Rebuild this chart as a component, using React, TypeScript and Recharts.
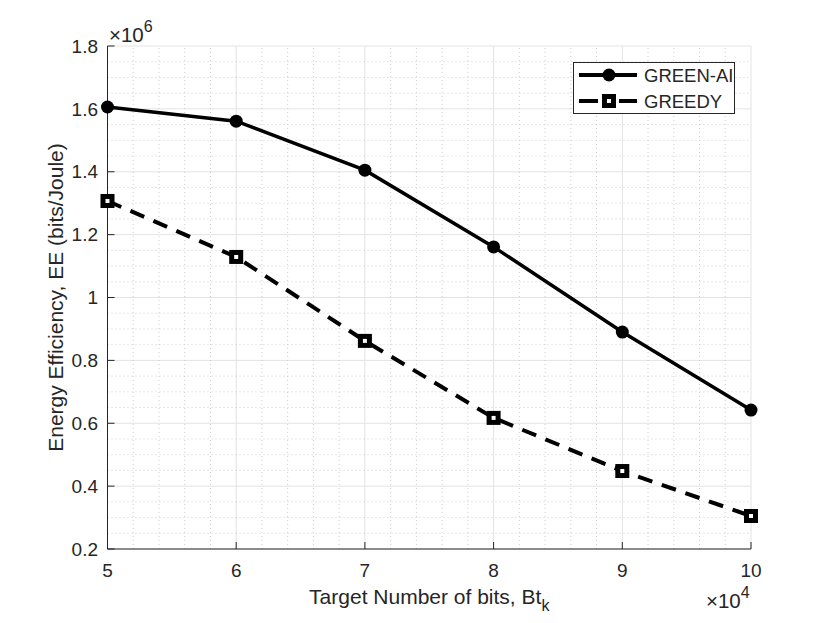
import {
  LineChart,
  Line,
  XAxis,
  YAxis,
  CartesianGrid,
  ReferenceLine,
  Legend,
} from "recharts";

// target bits (x 10^4) and energy efficiency (x 10^6 bits/Joule)
const targetBits = [5, 6, 7, 8, 9, 10];
const greenAi = [1.606, 1.561, 1.405, 1.161, 0.89, 0.642];
const greedy = [1.307, 1.129, 0.862, 0.617, 0.448, 0.305];

const xTicks = [5, 6, 7, 8, 9, 10];
const yTicks = [0.2, 0.4, 0.6, 0.8, 1, 1.2, 1.4, 1.6, 1.8];
const seriesOrder = ["greenAi", "greedy"];

const chartData = targetBits.map((x, i) => ({
  x,
  greenAi: greenAi[i],
  greedy: greedy[i],
}));

// minor grid (matlab style): 0.2 steps on x, 0.05 on y
const xMinor: number[] = [];
for (let i = 1; i < 25; i++) if (i % 5 !== 0) xMinor.push(5 + i * 0.2);
const yMinor: number[] = [];
for (let i = 1; i < 32; i++) if (i % 4 !== 0) yMinor.push(0.2 + i * 0.05);

const FONT = "'Liberation Sans', Arial, Helvetica, sans-serif";
const INK = "#262626";

const tickStyle = { fontSize: 19, fill: INK, fontFamily: FONT };

const SquareDot = (props: any) => {
  const { cx, cy, index } = props;
  if (cx == null || cy == null) return null;
  return (
    <rect
      key={`sq-${index}`}
      x={cx - 4.5}
      y={cy - 4.5}
      width={9}
      height={9}
      fill="#fff"
      stroke="#000"
      strokeWidth={5}
    />
  );
};

const LegendBox = ({ payload }: any) => {
  const items = [...(payload ?? [])].sort(
    (a: any, b: any) => seriesOrder.indexOf(a.dataKey) - seriesOrder.indexOf(b.dataKey)
  );
  return (
    <svg width={162} height={52} style={{ display: "block" }}>
      <rect x={0.5} y={0.5} width={161} height={51} fill="#fff" stroke={INK} />
      {items.map((item: any, i: number) => {
        const y = 13 + i * 26;
        const dashed = item.dataKey === "greedy";
        return (
          <g key={item.dataKey}>
            <line
              x1={6}
              x2={64}
              y1={y}
              y2={y}
              stroke="#000"
              strokeWidth={4}
              strokeDasharray={dashed ? "19 21" : undefined}
            />
            {dashed ? (
              <rect x={31.5} y={y - 4.5} width={9} height={9} fill="#fff" stroke="#000" strokeWidth={5} />
            ) : (
              <circle cx={36} cy={y} r={6.5} fill="#000" />
            )}
            <text x={71} y={y + 6.5} fontSize={18.5} fill={INK} fontFamily={FONT}>
              {item.value}
            </text>
          </g>
        );
      })}
    </svg>
  );
};

export default function App() {
  return (
    <div style={{ position: "absolute", left: 0, top: 0, width: 830, height: 623, background: "#fff" }}>
      <LineChart
        width={830}
        height={623}
        data={chartData}
        margin={{ top: 46, right: 79, bottom: 44, left: 47.5 }}
      >
        <CartesianGrid stroke="#e3e3e3" strokeWidth={1} />
        {xMinor.map((v) => (
          <ReferenceLine key={`xm-${v}`} x={v} stroke="#cdcdcd" strokeDasharray="1 3" />
        ))}
        {yMinor.map((v) => (
          <ReferenceLine key={`ym-${v}`} y={v} stroke="#cdcdcd" strokeDasharray="1 3" />
        ))}
        <XAxis
          dataKey="x"
          type="number"
          domain={[5, 10]}
          ticks={xTicks}
          height={30}
          tickSize={-7}
          tickMargin={22}
          stroke={INK}
          tick={tickStyle}
          label={{
            content: ({ viewBox }: any) => (
              <text
                x={viewBox.x + viewBox.width / 2}
                y={viewBox.y + 55}
                textAnchor="middle"
                fontSize={21}
                fill={INK}
                fontFamily={FONT}
              >
                Target Number of bits, Bt
                <tspan fontSize={16} dy={7}>k</tspan>
              </text>
            ),
          }}
        />
        <XAxis
          xAxisId="top"
          dataKey="x"
          type="number"
          orientation="top"
          domain={[5, 10]}
          ticks={xTicks}
          height={0}
          tickSize={-7}
          stroke={INK}
          tickFormatter={() => ""}
        />
        <YAxis
          type="number"
          domain={[0.2, 1.8]}
          ticks={yTicks}
          width={60}
          tickSize={-7}
          tickMargin={16.5}
          stroke={INK}
          tick={tickStyle}
          tickFormatter={(v: number) => (v === 1 ? "1" : v.toFixed(1))}
          label={{
            content: ({ viewBox }: any) => {
              const x = viewBox.x + 15;
              const y = viewBox.y + viewBox.height / 2;
              return (
                <text
                  x={x}
                  y={y}
                  transform={`rotate(-90, ${x}, ${y})`}
                  textAnchor="middle"
                  fontSize={21}
                  fill={INK}
                  fontFamily={FONT}
                >
                  Energy Efficiency, EE (bits/Joule)
                </text>
              );
            },
          }}
        />
        <YAxis
          yAxisId="right"
          orientation="right"
          type="number"
          domain={[0.2, 1.8]}
          ticks={yTicks}
          width={0}
          tickSize={-7}
          stroke={INK}
          tickFormatter={() => ""}
        />
        <Line
          dataKey="greenAi"
          name="GREEN-AI"
          stroke="#000"
          strokeWidth={3.5}
          dot={{ r: 6.5, fill: "#000", stroke: "#000", strokeWidth: 0 }}
          isAnimationActive={false}
        />
        <Line
          dataKey="greedy"
          name="GREEDY"
          stroke="#000"
          strokeWidth={4}
          strokeDasharray="15 10"
          dot={SquareDot}
          isAnimationActive={false}
        />
        <Legend
          layout="vertical"
          align="center"
          verticalAlign="middle"
          content={LegendBox}
          wrapperStyle={{ position: "absolute", left: 573, top: 62, width: 162, height: 52 }}
        />
      </LineChart>
      <svg
        width={830}
        height={623}
        style={{ position: "absolute", left: 0, top: 0, pointerEvents: "none" }}
      >
        <text x={109} y={42} fontSize={20.5} fill={INK} fontFamily={FONT}>
          ×10
          <tspan fontSize={16} dy={-10}>6</tspan>
        </text>
        <text x={706} y={608} fontSize={20.5} fill={INK} fontFamily={FONT}>
          ×10
          <tspan fontSize={16} dy={-10}>4</tspan>
        </text>
      </svg>
    </div>
  );
}
